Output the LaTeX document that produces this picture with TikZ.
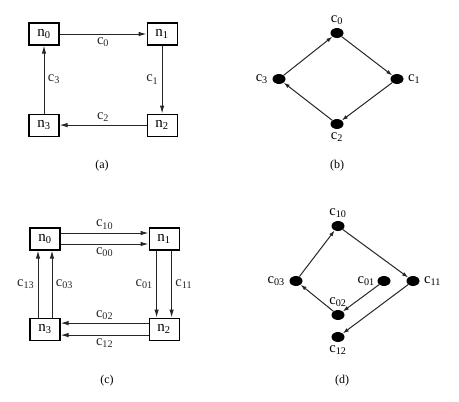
\documentclass[tikz,border=0pt]{standalone}
\usepackage{fontspec}
\setmainfont{Liberation Serif}
\usetikzlibrary{shapes.geometric, arrows.meta, positioning}
\newcommand{\sbs}[2]{#1\textsubscript{#2}}

\begin{document}
\begin{tikzpicture}[
    x=1pt, y=-1pt,
    nodebox/.style={rectangle, draw, line width=1.1pt, minimum width=30pt, minimum height=22pt, inner sep=0pt, font=\fontsize{15}{17}\selectfont},
    chan/.style={ellipse, fill=black, minimum width=13pt, minimum height=10pt, inner sep=0pt},
    lbl/.style={font=\fontsize{14.5}{17}\selectfont},
    capt/.style={font=\fontsize{12}{14}\selectfont},
    link/.style={-{Latex[length=8pt, width=4.5pt]}, line width=1pt, black!85},
    flow/.style={-{Latex[length=6pt, width=4pt]}, line width=1pt, black!85},
]
\useasboundingbox (0,0) rectangle (459,402);

% (a) ring of nodes
\node[nodebox] (a0) at (44,34) {\sbs{n}{0}};
\node[nodebox, right=87pt of a0] (a1) {\sbs{n}{1}};
\node[nodebox, below=68pt of a0] (a3) {\sbs{n}{3}};
\node[nodebox, right=87pt of a3] (a2) {\sbs{n}{2}};

\draw[link] (a0) -- (a1) node[midway, below, lbl] {\sbs{c}{0}};
\draw[link] (a1) -- (a2) node[midway, left, lbl] {\sbs{c}{1}};
\draw[link] (a2) -- (a3) node[midway, above, lbl] {\sbs{c}{2}};
\draw[link] (a3) -- (a0) node[midway, right, lbl] {\sbs{c}{3}};
\node[capt] (capA) at (102,166) {(a)};

% (b) channel graph
\node[chan, label={[lbl, label distance=0pt]above:\sbs{c}{0}}] (b0) at (337,33) {};
\node[chan, label={[lbl, label distance=1pt]right:\sbs{c}{1}}] (b1) at (397,79) {};
\node[chan, label={[lbl, label distance=0pt]below:\sbs{c}{2}}] (b2) at (337,124) {};
\node[chan, label={[lbl, label distance=1pt]left:\sbs{c}{3}}] (b3) at (279,79) {};

\draw[flow] (b0) -- (b1);
\draw[flow] (b1) -- (b2);
\draw[flow] (b2) -- (b3);
\draw[flow] (b3) -- (b0);
\node[capt] (capB) at (337,166) {(b)};

% (c) ring with two virtual channels
\node[nodebox] (c0) at (45,239) {\sbs{n}{0}};
\node[nodebox, right=88pt of c0] (c1) {\sbs{n}{1}};
\node[nodebox, below=67pt of c0] (c3) {\sbs{n}{3}};
\node[nodebox, right=88pt of c3] (c2) {\sbs{n}{2}};

\draw[link] ([yshift=6pt]c0.east) -- ([yshift=6pt]c1.west) node[midway, above, lbl] {\sbs{c}{10}};
\draw[link] ([yshift=-5pt]c0.east) -- ([yshift=-5pt]c1.west) node[midway, below, lbl] {\sbs{c}{00}};
\draw[link] ([xshift=-7.5pt]c1.south) -- ([xshift=-7.5pt]c2.north) node[midway, left, lbl] {\sbs{c}{01}};
\draw[link] ([xshift=7.5pt]c1.south) -- ([xshift=7.5pt]c2.north) node[midway, right, lbl] {\sbs{c}{11}};
\draw[link] ([yshift=6pt]c2.west) -- ([yshift=6pt]c3.east) node[midway, above, lbl] {\sbs{c}{02}};
\draw[link] ([yshift=-6pt]c2.west) -- ([yshift=-6pt]c3.east) node[midway, below, lbl] {\sbs{c}{12}};
\draw[link] ([xshift=-7pt]c3.north) -- ([xshift=-7pt]c0.south) node[midway, left, lbl] {\sbs{c}{13}};
\draw[link] ([xshift=7pt]c3.north) -- ([xshift=7pt]c0.south) node[midway, right, lbl] {\sbs{c}{03}};
\node[capt] (capC) at (107,381) {(c)};

% (d) channel dependency graph
\node[chan, label={[lbl, label distance=0pt]above:\sbs{c}{10}}] (d10) at (338,226) {};
\node[chan, label={[lbl, label distance=1pt]left:\sbs{c}{03}}] (d03) at (296,281) {};
\node[chan, label={[lbl, label distance=-1pt]left:\sbs{c}{01}}] (d01) at (384,281) {};
\node[chan, label={[lbl, label distance=1pt]right:\sbs{c}{11}}] (d11) at (413,281) {};
\node[chan, label={[lbl, label distance=0pt]above:\sbs{c}{02}}] (d02) at (338,315) {};
\node[chan, label={[lbl, label distance=0pt]below:\sbs{c}{12}}] (d12) at (338,337) {};

\draw[flow] (d03) -- (d10);
\draw[flow] (d10) -- (d11);
\draw[flow] (d11) -- (d12);
\draw[flow] (d02) -- (d03);
\draw[flow] (d01) -- (d02);
\node[capt] (capD) at (342,381) {(d)};

\end{tikzpicture}
\end{document}
